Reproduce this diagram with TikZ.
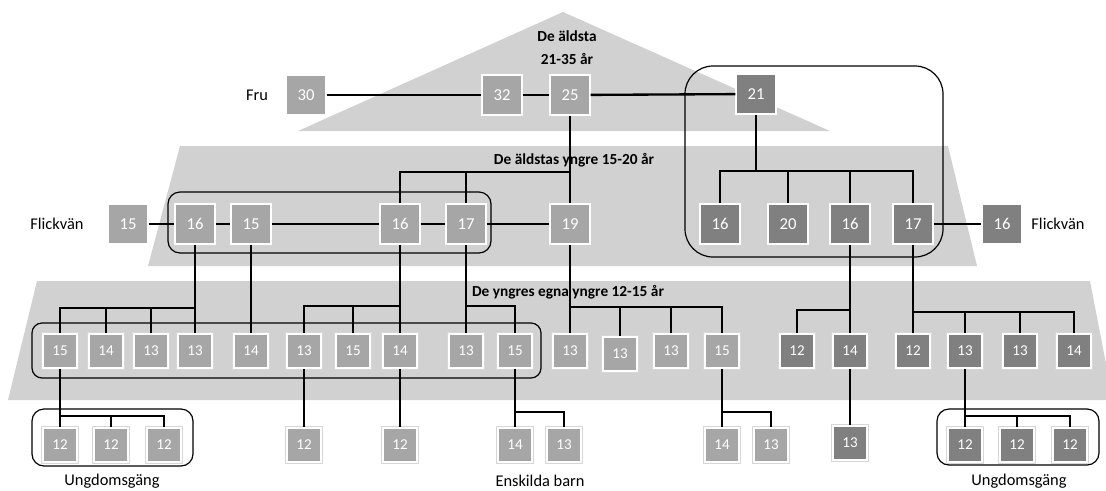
\documentclass[tikz,border=0pt]{standalone}
\usepackage{fontspec}
\setmainfont{Carlito}
\usepackage{xcolor}
\usepackage{tikz}
\usetikzlibrary{positioning, calc}

\begin{document}
\begin{tikzpicture}[
  x=0.75pt, y=-0.75pt,
  box/.style={rectangle, draw=white, line width=1.5pt, text=white, inner sep=0pt,
    preaction={draw=black!16, line width=2.4pt},
    minimum size=29.5pt, font=\fontsize{12.5}{14}\selectfont},
  lt/.style={box, fill=black!35},
  dk/.style={box, fill=black!50},
  sm/.style={minimum size=25.5pt, font=\fontsize{11.3}{13}\selectfont},
  band/.style={fill=black!18},
  grp/.style={draw=black, line width=0.9pt, rounded corners=#1},
  grp/.default=9pt,
  ln/.style={line width=1.75pt},
  lbl/.style={font=\fontsize{12.3}{15}\selectfont},
  head/.style={font=\bfseries\fontsize{11.5}{17}\selectfont, align=center}
]
\useasboundingbox (0,0) rectangle (1106,490);

% age bands
\fill[band] (298,131) -- (563,12) -- (830,131) -- cycle;
\fill[band] (180,146) -- (948,146) -- (977,266) -- (148,266) -- cycle;
\fill[band] (37,281) -- (1090,281) -- (1113,400) -- (8,400) -- cycle;

% groups
\draw[grp=21pt] (685,66) rectangle (943,257);
\draw[grp] (168,192) rectangle (491,253);
\draw[grp=7.5pt] (32,323) rectangle (541,378);
\draw[grp] (32,409) rectangle (193,466);
\draw[grp] (937,409) rectangle (1099,465);

% headings and labels
\node[head] (hA) at (567,48) {De äldsta\\21-35 år};
\node[head] (hB) at (574,160) {De äldstas yngre 15-20 år};
\node[head] (hC) at (568,292) {De yngres egna yngre 12-15 år};
\node[lbl] (fru) at (257,95) {Fru};
\node[lbl] (fvL) at (57,224) {Flickvän};
\node[lbl] (fvR) at (1058,224) {Flickvän};
\node[lbl] (ugL) at (112,481) {Ungdomsgäng};
\node[lbl] (eb) at (540,481) {Enskilda barn};
\node[lbl] (ugR) at (1019,481) {Ungdomsgäng};

% oldest
\node[lt] (t30) at (306,95) {30};
\node[lt] (t32) at (502,95) {32};
\node[lt] (t25) at (570,95) {25};
\node[dk] (t21) at (756,94) {21};

% 15-20
\node[lt] (m15f) at (128,224) {15};
\node[lt] (m16a) at (195,224) {16};
\node[lt] (m15) at (251,224) {15};
\node[lt] (m16b) at (400,224) {16};
\node[lt] (m17) at (466,224) {17};
\node[lt] (m19) at (570,224) {19};
\node[dk] (d16a) at (720,224) {16};
\node[dk] (d20) at (788,224) {20};
\node[dk] (d16b) at (850,224) {16};
\node[dk] (d17) at (913,224) {17};
\node[dk] (d16f) at (1002,224) {16};

% 12-15
\node[lt, sm] (l15a) at (60,351) {15};
\node[lt, sm] (l14a) at (106,351) {14};
\node[lt, sm] (l13a) at (151,351) {13};
\node[lt, sm] (l13b) at (195,351) {13};
\node[lt, sm] (l14b) at (251,351) {14};
\node[lt, sm] (l13c) at (304,351) {13};
\node[lt, sm] (l15b) at (353,351) {15};
\node[lt, sm] (l14c) at (400,351) {14};
\node[lt, sm] (l13d) at (466,351) {13};
\node[lt, sm] (l15c) at (515,351) {15};
\node[lt, sm] (l13e) at (570,351) {13};
\node[lt, sm] (l13f) at (620,354) {13};
\node[lt, sm] (l13g) at (671,351) {13};
\node[lt, sm] (l15d) at (722,351) {15};
\node[dk, sm] (e12a) at (797,351) {12};
\node[dk, sm] (e14) at (850,351) {14};
\node[dk, sm] (e12b) at (913,351) {12};
\node[dk, sm] (e13a) at (965,351) {13};
\node[dk, sm] (e13b) at (1020,351) {13};
\node[dk, sm] (e14b) at (1074,351) {14};

% youngest
\node[lt, sm] (b12a) at (60,445) {12};
\node[lt, sm] (b12b) at (111,445) {12};
\node[lt, sm] (b12c) at (164,445) {12};
\node[lt, sm] (b12d) at (304,445) {12};
\node[lt, sm] (b12e) at (400,445) {12};
\node[lt, sm] (b14a) at (515,445) {14};
\node[lt, sm] (b13a) at (564,445) {13};
\node[lt, sm] (b14b) at (722,445) {14};
\node[lt, sm] (b13b) at (771,445) {13};
\node[dk, sm] (f13) at (850,443) {13};
\node[dk, sm] (f12a) at (965,445) {12};
\node[dk, sm] (f12b) at (1017,445) {12};
\node[dk, sm] (f12c) at (1070,445) {12};

% branch points
\coordinate (k25) at (570,172);
\coordinate (k21) at (756,171);
\coordinate (k16a) at (195,308);
\coordinate (k16b) at (400,306);
\coordinate (k17) at (466,306);
\coordinate (k19) at (570,307);
\coordinate (k16d) at (850,310);
\coordinate (k17d) at (913,312);
\coordinate (k15a) at (60,416);
\coordinate (k15c) at (515,412);
\coordinate (k15d) at (722,412);
\coordinate (k13e) at (965,416);

% links
\draw[ln] (t30) -- (t32); \draw[ln] (t32) -- (t25); \draw[ln] (t25) -- (t21);
\draw[ln] (m15f) -- (m16a); \draw[ln] (m16a) -- (m15); \draw[ln] (m15) -- (m16b);
\draw[ln] (m16b) -- (m17); \draw[ln] (m17) -- (m19); \draw[ln] (d17) -- (d16f);

\draw[ln] (t25) -- (m19);
\draw[ln] (m16b.north) |- (k25);
\draw[ln] (m17.north) -- (m17.north |- k25);

\draw[ln] (t21) -- (k21);
\draw[ln] (d16a.north) |- (d17.north |- k21) -- (d17.north);
\foreach \c in {d20,d16b} \draw[ln] (\c.north) -- (\c.north |- k21);

\draw[ln] (m16a) -- (l13b);
\draw[ln] (l15a.north) |- (k16a);
\foreach \c in {l14a,l13a} \draw[ln] (\c.north) -- (\c.north |- k16a);
\draw[ln] (m15) -- (l14b);
\draw[ln] (m16b) -- (l14c);
\draw[ln] (l13c.north) |- (k16b);
\draw[ln] (l15b.north) -- (l15b.north |- k16b);
\draw[ln] (m17) -- (l13d);
\draw[ln] (k17) -| (l15c.north);
\draw[ln] (m19) -- (l13e);
\draw[ln] (k19) -| (l15d.north);
\foreach \c in {l13f,l13g} \draw[ln] (\c.north) -- (\c.north |- k19);
\draw[ln] (d16b) -- (e14);
\draw[ln] (k16d) -| (e12a.north);
\draw[ln] (d17) -- (e12b);
\draw[ln] (k17d) -| (e14b.north);
\foreach \c in {e13a,e13b} \draw[ln] (\c.north) -- (\c.north |- k17d);

\draw[ln] (l15a) -- (b12a);
\draw[ln] (k15a) -| (b12c.north);
\draw[ln] (b12b.north) -- (b12b.north |- k15a);
\draw[ln] (l13c) -- (b12d);
\draw[ln] (l14c) -- (b12e);
\draw[ln] (l15c) -- (b14a);
\draw[ln] (k15c) -| (b13a.north);
\draw[ln] (l15d) -- (b14b);
\draw[ln] (k15d) -| (b13b.north);
\draw[ln] (e14) -- (f13);
\draw[ln] (e13a) -- (f12a);
\draw[ln] (k13e) -| (f12c.north);
\draw[ln] (f12b.north) -- (f12b.north |- k13e);
\end{tikzpicture}
\end{document}
